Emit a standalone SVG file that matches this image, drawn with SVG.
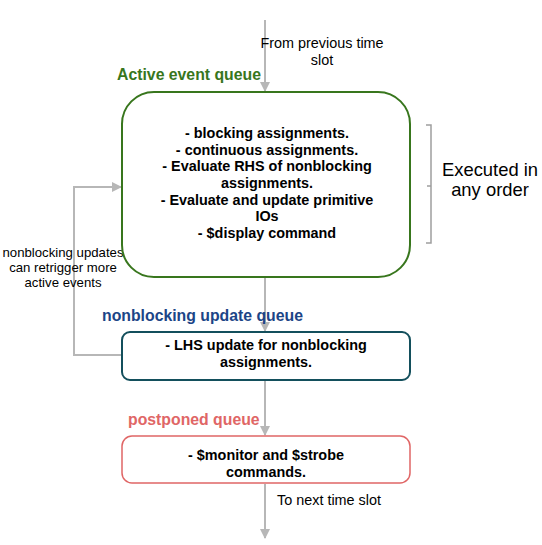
<svg xmlns="http://www.w3.org/2000/svg" width="542" height="545" viewBox="0 0 542 545">
<defs>
<marker id="ah" markerWidth="10" markerHeight="10" refX="9" refY="5" orient="auto" markerUnits="userSpaceOnUse">
<path d="M0,0 L10,5 L0,10 Z" fill="#b7b7b7"/>
</marker>
<style>
.conn{stroke:#b7b7b7;stroke-width:2;fill:none}
.t{font-family:"Liberation Sans",Arial,sans-serif;fill:#000}
.b{font-weight:bold;font-size:14.4px;text-anchor:middle}
.lbl{font-family:"Liberation Sans",Arial,sans-serif;font-weight:bold;font-size:15.8px}
</style>
</defs>
<rect width="542" height="545" fill="#fff"/>
<g id="connectors">
<line class="conn" x1="265" y1="20" x2="265" y2="91" marker-end="url(#ah)"/>
<line class="conn" x1="265" y1="278" x2="265" y2="331" marker-end="url(#ah)"/>
<line class="conn" x1="265" y1="381" x2="265" y2="435" marker-end="url(#ah)"/>
<line class="conn" x1="265" y1="484" x2="265" y2="538" marker-end="url(#ah)"/>
<polyline class="conn" points="122,355 74,355 74,187 121,187" marker-end="url(#ah)"/>
<path d="M426,125 L431,125 L431,243 L426,243 M431,186 L427,186" stroke="#9e9e9e" stroke-width="1.5" fill="none"/>
</g>
<g id="labels">
<text class="t" x="322" y="48" font-size="14.4" text-anchor="middle">From previous time</text>
<text class="t" x="322" y="65" font-size="14.4" text-anchor="middle">slot</text>
<text class="t" x="490" y="176" font-size="18.4" text-anchor="middle" fill="#222">Executed in</text>
<text class="t" x="490" y="196" font-size="18.4" text-anchor="middle" fill="#222">any order</text>
<text class="t" x="63" y="257" font-size="13.2" text-anchor="middle">nonblocking updates</text>
<text class="t" x="63" y="272" font-size="13.2" text-anchor="middle">can retrigger more</text>
<text class="t" x="63" y="287" font-size="13.2" text-anchor="middle">active events</text>
<text class="t" x="277" y="505" font-size="14.4">To next time slot</text>
</g>
<g id="active-queue">
<text class="lbl" x="117" y="80" fill="#38761d">Active event queue</text>
<rect x="122" y="92" width="288" height="185" rx="32" ry="32" fill="#fff" stroke="#38761d" stroke-width="2"/>
<text class="t b" x="267" y="138">- blocking assignments.</text>
<text class="t b" x="267" y="155">- continuous assignments.</text>
<text class="t b" x="267" y="171">- Evaluate RHS of nonblocking</text>
<text class="t b" x="267" y="188">assignments.</text>
<text class="t b" x="267" y="205">- Evaluate and update primitive</text>
<text class="t b" x="267" y="221">IOs</text>
<text class="t b" x="267" y="238">- $display command</text>
</g>
<g id="nonblocking-queue">
<text class="lbl" x="102" y="321" fill="#1c4587">nonblocking update queue</text>
<rect x="122" y="332" width="288" height="48" rx="8" ry="8" fill="#fff" stroke="#134f5c" stroke-width="2"/>
<text class="t b" x="266" y="350">- LHS update for nonblocking</text>
<text class="t b" x="266" y="367">assignments.</text>
</g>
<g id="postponed-queue">
<text class="lbl" x="128" y="425" fill="#e06666">postponed queue</text>
<rect x="122" y="436" width="288" height="47" rx="10" ry="10" fill="#fff" stroke="#e06666" stroke-width="1.5"/>
<text class="t b" x="266" y="460">- $monitor and $strobe</text>
<text class="t b" x="266" y="477">commands.</text>
</g>
</svg>
